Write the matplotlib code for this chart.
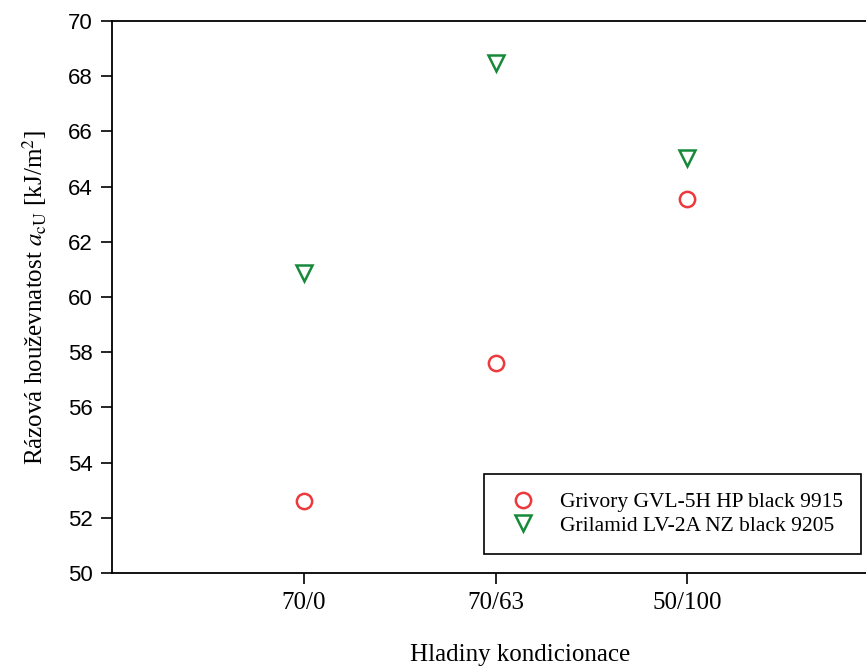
import matplotlib
matplotlib.use('Agg')
import matplotlib.pyplot as plt

categories = ['70/0', '70/63', '50/100']
grivory = [52.6, 57.6, 63.55]
grilamid = [60.87, 68.48, 65.04]
labels = ['Grivory GVL-5H HP black 9915', 'Grilamid LV-2A NZ black 9205']

plt.rcParams['mathtext.fontset'] = 'stix'
serif = 'Liberation Serif'
sans = 'Liberation Sans'

fig = plt.figure(figsize=(8.66, 6.70), dpi=100)
ax = fig.add_axes([112/866, 97/670, (879-112)/866, (573-21)/670])

x = list(range(1, len(categories) + 1))
ax.plot(x, grivory, linestyle='none', marker='o', markersize=11, markerfacecolor='none',
        markeredgecolor='#ec3a3c', markeredgewidth=1.8, label=labels[0])
ax.plot(x, grilamid, linestyle='none', marker='v', markersize=11, markerfacecolor='none',
        markeredgecolor='#17893a', markeredgewidth=1.8, label=labels[1])

ax.set_xlim(0, 4)
ax.set_ylim(50, 70)
ax.set_yticks(range(50, 71, 2))
ax.set_xticks(x)
ax.set_xticklabels(categories, fontfamily=serif, fontsize=18)
for t in ax.get_yticklabels():
    t.set_fontfamily(sans)
    t.set_fontsize(16)
ax.tick_params(direction='out', length=8, width=1.2, pad=6)
for s in ax.spines.values():
    s.set_linewidth(1.3)

ax.set_ylabel(r'Rázová houževnatost $a_{\mathrm{cU}}$ [kJ/m$^2$]', fontfamily=serif, fontsize=18)
ax.yaxis.set_label_coords((35-112)/767, 0.5)
ax.yaxis.label.set_va('center')
ax.set_xlabel('Hladiny kondicionace', fontfamily=serif, fontsize=18)
ax.xaxis.set_label_coords((520-112)/767, (573-655)/552)
ax.xaxis.label.set_va('center')

leg = ax.legend(loc='lower right', bbox_to_anchor=(861/866, 116/670), bbox_transform=fig.transFigure,
                prop={'family': serif, 'size': 15.5}, fancybox=False, framealpha=1,
                edgecolor='black', borderpad=0.85, handletextpad=0.75, labelspacing=0.15,
                borderaxespad=0, handlelength=1.9)
leg.get_frame().set_linewidth(1.2)

fig.savefig('out.png', dpi=100)
